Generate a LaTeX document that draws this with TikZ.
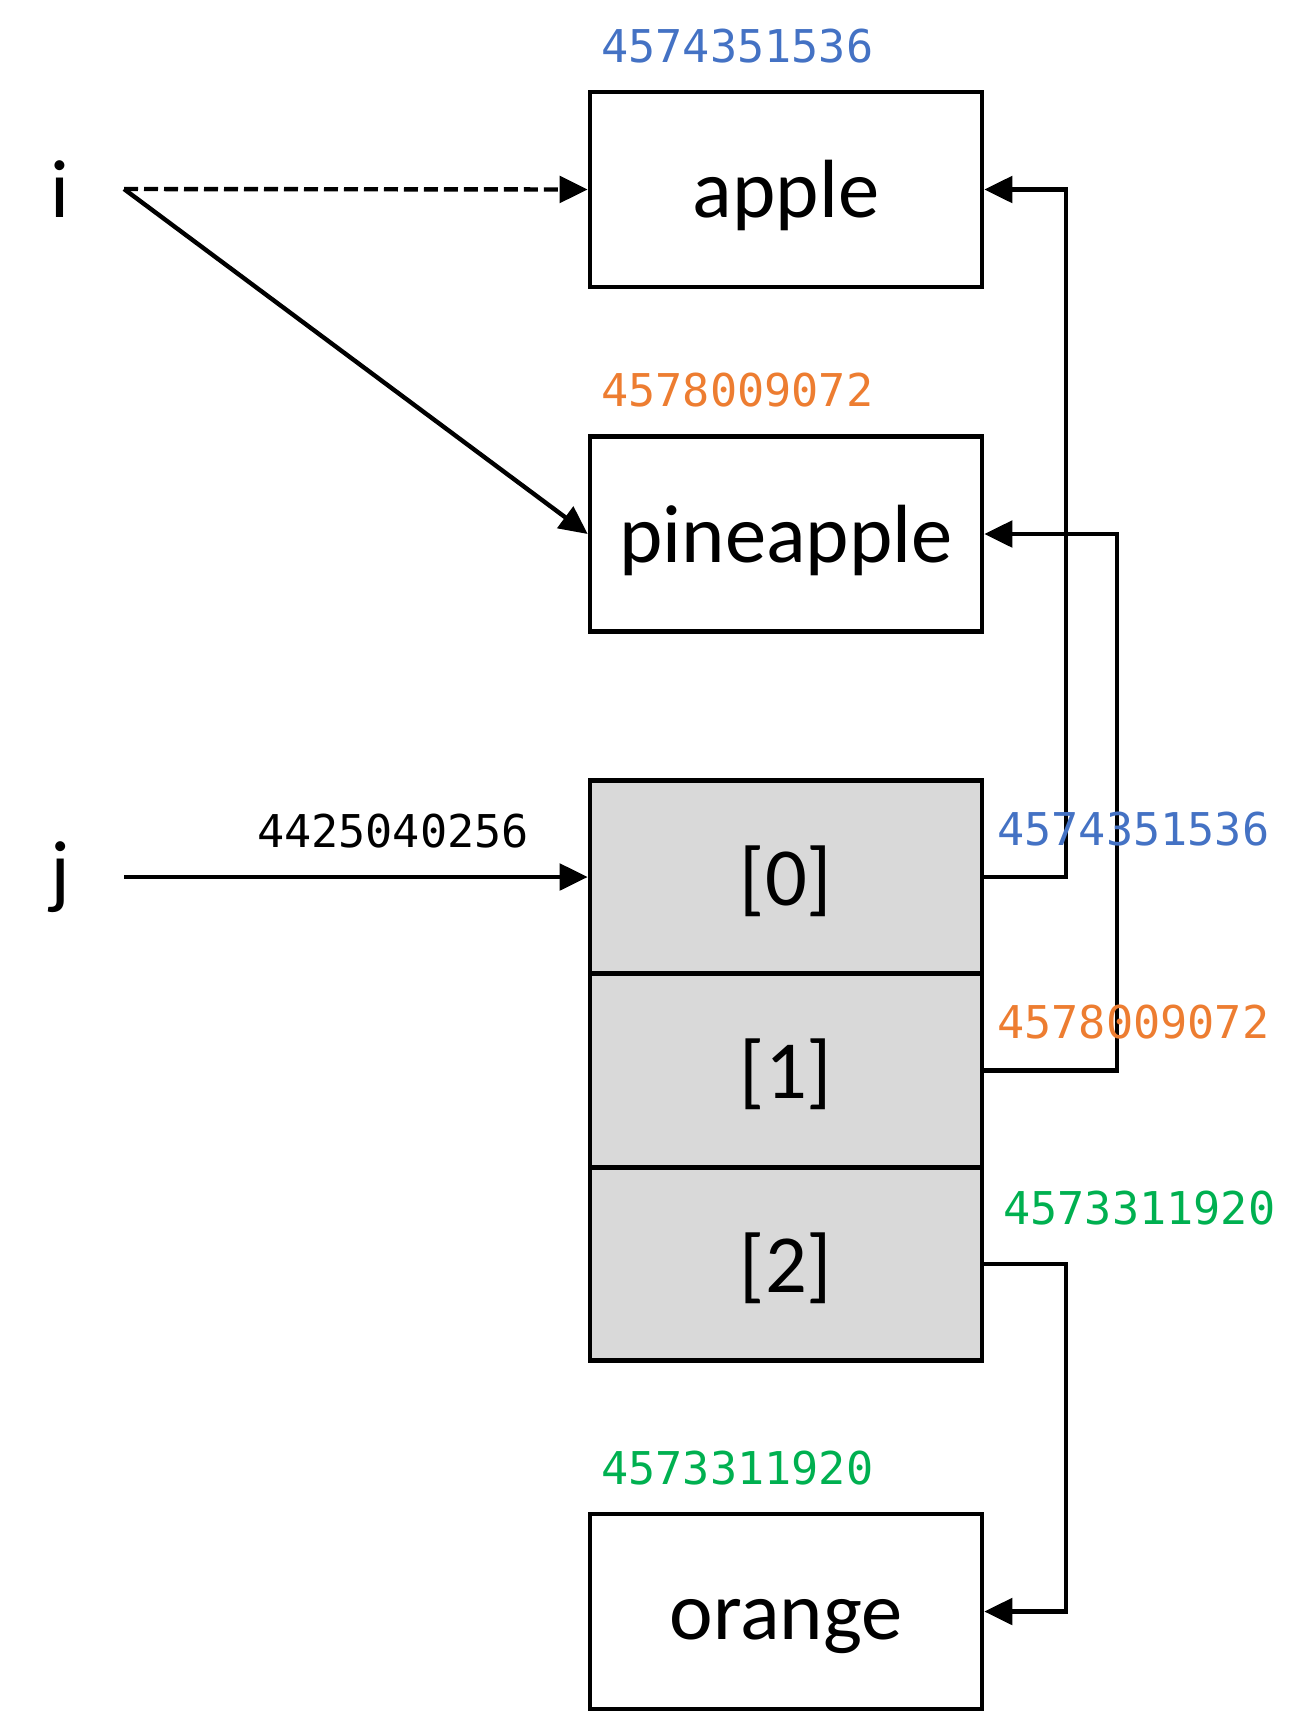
\documentclass[tikz,border=0pt]{standalone}
\usepackage{fontspec}
\setmainfont{Carlito}
\newfontfamily\addrfont{DejaVu Sans Mono}
\usetikzlibrary{positioning,arrows.meta}
\definecolor{adblue}{HTML}{4472C4}
\definecolor{adorange}{HTML}{ED7D31}
\definecolor{adgreen}{HTML}{00B050}
\definecolor{cellgray}{HTML}{D9D9D9}

\begin{document}
\begin{tikzpicture}[
      font=\fontsize{47}{55}\selectfont,
      obj/.style={draw=black, line width=2.6pt, minimum width=7.84cm,
                  minimum height=3.9cm, align=center, fill=white,
                  text height=41pt, text depth=9pt},
      cell/.style={obj, fill=cellgray, minimum height=3.87cm},
      var/.style={inner sep=0pt},
      addr/.style={font=\addrfont\fontsize{25.7}{30}\selectfont, inner sep=0pt, anchor=west},
      arr/.style={-{Triangle[length=16pt, width=15pt]}, line width=2.5pt, draw=black}
    ]
    \useasboundingbox (0,0) rectangle (26.3,-34.28);
    % ------------- objects -------------
    \node[obj] (apple) at (15.72,-3.79) {apple};
    \node[obj] (pine) at (15.72,-10.68) {pineapple};
    \node[obj] (orange) at (15.72,-32.23) {orange};
    \node[addr, text=adblue] (aapple) at (12.02,-0.92) {4574351536};
    \node[addr, text=adorange] (apine) at (12.02,-7.80) {4578009072};
    \node[addr, text=adgreen] (aorange) at (12.02,-29.36) {4573311920};
    % ------------- list -------------
    \node[cell] (c0) at (15.72,-17.54) {[0]};
    \node[cell] (c1) at (15.72,-21.41) {[1]};
    \node[cell] (c2) at (15.72,-25.28) {[2]};
    % ------------- names -------------
    \node[var] (i) at (1.2,-3.78) {i};
    \node[var] (j) at (1.2,-17.54) {j};
    \coordinate (ifrom) at (2.48,-3.78);
    \coordinate (jfrom) at (2.48,-17.54);
    \draw[arr, dash pattern=on 0.28cm off 0.12cm] (ifrom) -- (apple.west);
    \draw[arr] (ifrom) -- (pine.west);
    \draw[arr] (jfrom) -- node[pos=0.58, above=0.53cm, inner sep=0pt,
      font=\addrfont\fontsize{25.7}{30}\selectfont] (aj) {4425040256} (c0.west);
    % ------------- references -------------
    \draw[arr] (c0.east) -- ++(1.64,0) |- (apple.east);
    \draw[arr] (c1.east) -- ++(2.66,0) |- (pine.east);
    \draw[arr] (c2.east) -- ++(1.64,0) |- (orange.east);
    \node[addr, text=adblue] (a0) at (19.94,-16.58) {4574351536};
    \node[addr, text=adorange] (a1) at (19.94,-20.44) {4578009072};
    \node[addr, text=adgreen] (a2) at (20.06,-24.16) {4573311920};
  \end{tikzpicture}
\end{document}
